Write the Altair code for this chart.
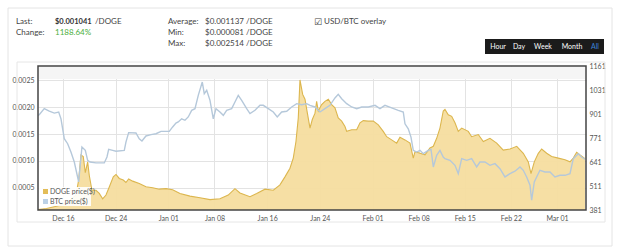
import altair as alt
import pandas as pd

# ---------------- data ----------------
BASE = "2013-12-12"  # day 0 of the day offsets below

# (day offset, BTC price in USD)
btc_points = [
    (0.21, 893), (0.40, 897), (1.16, 930), (1.92, 916), (2.68, 906), (3.35, 912),
    (3.70, 875), (4.20, 767), (4.71, 740), (5.21, 695), (5.72, 641), (6.38, 533),
    (6.88, 722), (7.39, 704), (7.75, 650), (8.10, 641), (9.01, 636), (10.27, 636),
    (10.68, 668), (10.94, 710), (11.55, 704), (12.05, 699), (13.31, 704), (13.56, 749),
    (13.97, 800), (15.08, 798), (15.58, 767), (15.99, 755), (16.60, 782), (17.36, 789),
    (18.12, 794), (18.88, 807), (20.14, 807), (20.65, 831), (21.15, 852), (21.50, 858),
    (22.02, 875), (22.52, 867), (23.02, 885), (23.54, 921), (24.04, 930), (24.54, 1002),
    (25.15, 1074), (25.45, 1011), (25.82, 1029), (26.32, 975), (26.82, 875), (27.23, 930),
    (27.83, 912), (28.34, 894), (28.85, 921), (29.61, 930), (30.11, 966), (30.61, 1002),
    (31.13, 975), (31.89, 930), (32.39, 903), (33.15, 921), (33.91, 948), (34.41, 948),
    (35.17, 930), (35.93, 912), (36.53, 885), (37.20, 912), (37.96, 916), (38.72, 939),
    (39.48, 957), (40.24, 951), (41.00, 957), (41.50, 948), (42.26, 939), (43.02, 912),
    (43.77, 930), (44.53, 948), (45.29, 988), (45.79, 1008), (46.31, 984), (47.07, 957),
    (47.83, 939), (48.59, 930), (49.35, 939), (50.35, 939), (51.37, 948), (52.12, 930),
    (52.88, 948), (53.90, 934), (54.90, 921), (55.66, 912), (55.92, 848), (56.42, 821),
    (56.83, 776), (57.18, 704), (57.70, 695), (58.20, 704), (58.70, 686), (59.46, 704),
    (59.87, 710), (60.22, 614), (60.73, 677), (61.23, 704), (61.73, 668), (61.99, 659),
    (62.75, 650), (63.51, 623), (64.01, 578), (64.53, 659), (65.29, 650), (66.04, 659),
    (66.80, 614), (67.30, 641), (68.06, 641), (68.82, 623), (69.58, 632), (70.34, 605),
    (71.10, 560), (71.86, 578), (72.62, 591), (73.38, 614), (73.88, 596), (74.39, 560),
    (74.90, 515), (75.15, 434), (75.55, 533), (75.91, 560), (76.41, 596), (77.17, 587),
    (77.93, 587), (78.69, 560), (79.45, 569), (80.21, 569), (80.97, 578), (81.47, 659),
    (82.23, 686), (82.74, 668), (83.25, 656),
]

# (day offset, DOGE price in USD)
doge_points = [
    (0.21, 0.000090), (1.50, 0.000110), (3.00, 0.000150), (4.00, 0.000190),
    (4.96, 0.00025), (5.97, 0.00036), (6.38, 0.00064), (6.73, 0.00111), (7.08, 0.00108),
    (7.39, 0.00078), (7.75, 0.00098), (7.99, 0.00073), (8.40, 0.00045), (9.01, 0.00045),
    (9.51, 0.00039), (10.03, 0.00029), (10.53, 0.00036), (11.03, 0.00051), (11.64, 0.00070),
    (12.05, 0.000745), (12.55, 0.00067), (13.15, 0.00064), (13.56, 0.000595), (13.97, 0.00066),
    (14.58, 0.00062), (15.58, 0.000576), (16.60, 0.000514), (17.62, 0.000495), (18.62, 0.00047),
    (19.64, 0.00048), (20.65, 0.00046), (21.76, 0.00039), (23.28, 0.00034), (24.80, 0.00031),
    (26.32, 0.000275), (27.83, 0.00029), (29.09, 0.00036), (30.11, 0.00048), (30.87, 0.00040),
    (32.39, 0.00033), (33.41, 0.00039), (34.67, 0.00047), (35.93, 0.00045), (36.94, 0.00055),
    (37.70, 0.00070), (38.46, 0.00086), (38.96, 0.00105), (39.37, 0.00136), (39.72, 0.00180),
    (39.98, 0.00251), (40.39, 0.00224), (40.74, 0.00215), (41.09, 0.00190), (41.50, 0.00161),
    (41.85, 0.00177), (42.26, 0.00189), (42.51, 0.00211), (42.76, 0.00193), (43.27, 0.00205),
    (43.77, 0.00211), (44.28, 0.00215), (44.79, 0.00205), (45.29, 0.00199), (45.79, 0.00180),
    (46.31, 0.00174), (46.81, 0.00164), (47.07, 0.00155), (47.83, 0.00158), (48.59, 0.00158),
    (49.09, 0.00171), (49.59, 0.00175), (50.35, 0.00174), (51.11, 0.00174), (51.87, 0.00167),
    (52.62, 0.00155), (53.14, 0.00145), (53.90, 0.00139), (54.66, 0.00133), (55.16, 0.00144),
    (55.92, 0.00139), (56.68, 0.00133), (57.18, 0.00105), (57.44, 0.00117), (58.20, 0.00114),
    (58.96, 0.00111), (59.71, 0.00124), (60.22, 0.00127), (60.73, 0.00142), (61.23, 0.00161),
    (61.73, 0.00193), (61.99, 0.00196), (62.49, 0.00186), (63.01, 0.00183), (63.51, 0.00171),
    (64.01, 0.00155), (64.53, 0.00161), (65.53, 0.00155), (66.04, 0.00145), (67.05, 0.00149),
    (67.81, 0.00136), (68.82, 0.00142), (69.84, 0.00133), (70.84, 0.00120), (71.86, 0.00122),
    (72.88, 0.00127), (73.88, 0.00114), (74.64, 0.00098), (75.05, 0.00076), (75.55, 0.00098),
    (76.16, 0.00114), (76.67, 0.00122), (77.43, 0.00114), (78.19, 0.00108), (79.19, 0.00105),
    (80.21, 0.00102), (80.97, 0.00098), (81.47, 0.00105), (81.98, 0.00116), (82.49, 0.00111),
    (83.25, 0.00104),
]

x_tick_dates = ["2013-12-16", "2013-12-24", "2014-01-01", "2014-01-08", "2014-01-16",
                "2014-01-24", "2014-02-01", "2014-02-08", "2014-02-15", "2014-02-22",
                "2014-03-01"]
x_domain_days = [0.21, 83.40]
doge_ticks = [0.0005, 0.0010, 0.0015, 0.0020, 0.0025]
doge_domain = [0.000081, 0.00277]
btc_ticks = [381, 511, 641, 771, 901, 1031, 1161]
btc_domain = [381, 1161]

stats = {
    "last": "$0.001041", "change": "1188.64%", "average": "$0.001137",
    "min": "$0.000081", "max": "$0.002514", "unit": "/DOGE",
}
legend_labels = ["DOGE price($)", "BTC price($)"]
range_buttons = ["Hour", "Day", "Week", "Month", "All"]

# ---------------- build tables ----------------
base_ts = pd.Timestamp(BASE)


def to_time(days):
    return (base_ts + pd.to_timedelta(days, unit="D")).strftime("%Y-%m-%dT%H:%M:%S")


btc_df = pd.DataFrame(btc_points, columns=["day", "price"])
btc_df["time"] = btc_df["day"].map(to_time)
doge_df = pd.DataFrame(doge_points, columns=["day", "price"])
doge_df["time"] = doge_df["day"].map(to_time)


def dt(ts):
    return alt.DateTime(year=ts.year, month=ts.month, date=ts.day,
                        hours=ts.hour, minutes=ts.minute)


x_values = [dt(pd.Timestamp(s)) for s in x_tick_dates]
x_domain = [dt(base_ts + pd.to_timedelta(d, unit="D")) for d in x_domain_days]

FONT = "Lato"
W, H = 548, 144
OX, OY = 38, 66  # plot origin inside the 624x251 page

x_enc = alt.X("time:T", scale=alt.Scale(domain=x_domain),
              axis=alt.Axis(values=x_values, format="%b %d", title=None,
                            labelFontSize=7, labelColor="#555", labelFont=FONT,
                            grid=True, gridColor="#e3e3e3", domain=False,
                            ticks=False, labelPadding=4, labelFlush=False))

doge = alt.Chart(doge_df).mark_area(
    color="#f6dd9f", opacity=0.95,
    line={"color": "#dcb64e", "strokeWidth": 1.1},
).encode(
    x=x_enc,
    y=alt.Y("price:Q", scale=alt.Scale(domain=doge_domain, zero=False, nice=False),
            axis=alt.Axis(values=doge_ticks, format=".4f", title=None, orient="left",
                          labelFontSize=7, labelColor="#555", labelFont=FONT,
                          grid=True, gridColor="#e3e3e3", domain=False, ticks=False,
                          labelPadding=4)),
    y2=alt.datum(doge_domain[0]),
)

btc = alt.Chart(btc_df).mark_line(color="#b5c8da", strokeWidth=1.4).encode(
    x=alt.X("time:T"),
    y=alt.Y("price:Q", scale=alt.Scale(domain=btc_domain, zero=False, nice=False),
            axis=alt.Axis(values=btc_ticks, format="d", title=None, orient="right",
                          labelFontSize=7, labelColor="#555", labelFont=FONT,
                          grid=False, domain=False, ticks=False, labelPadding=3)),
)

one = alt.Data(values=[{}])


def rect(x, y, x2, y2, **kw):
    return alt.Chart(one).mark_rect(**kw).encode(
        x=alt.value(x - OX), y=alt.value(y - OY),
        x2=alt.value(x2 - OX), y2=alt.value(y2 - OY))


def txt(text, x, y, **kw):
    style = dict(align="left", baseline="middle", fontSize=8, font=FONT, color="#444")
    style.update(kw)
    return alt.Chart(one).mark_text(text=text, **style).encode(
        x=alt.value(x - OX), y=alt.value(y - OY))


decor_back = [
    rect(8, 8, 612, 246, fill=None, stroke="#e4e4e4", strokeWidth=1),
    rect(17, 62, 605, 222, fill=None, stroke="#e6e6e6", strokeWidth=1),
    rect(OX + 1, OY + 1, OX + W - 1, OY + 13, fill="#f5f5f5"),
]

decor_front = [
    rect(OX, OY, OX + W, OY + H, fill=None, stroke="#444", strokeWidth=1.5),
    # legend
    rect(39, 187, 91, 206, fill="white", opacity=0.9),
    rect(43, 189, 48, 194, fill="#e3bd58"),
    rect(43, 199, 48, 204, fill="#bcd1e6"),
    txt(legend_labels[0], 50, 191.5, fontSize=7, color="#555"),
    txt(legend_labels[1], 50, 201.5, fontSize=7, color="#555"),
    # header
    txt("Last:", 16, 22),
    txt(stats["last"], 55, 22, fontWeight="bold", color="#333", fontSize=7.5),
    txt(stats["unit"], 95, 22),
    txt("Change:", 16, 33),
    txt(stats["change"], 55, 33, color="#4caf3c"),
    txt("Average:", 168, 22),
    txt("Min:", 168, 33),
    txt("Max:", 168, 44),
    txt(stats["average"] + " " + stats["unit"], 205, 22),
    txt(stats["min"] + " " + stats["unit"], 205, 33),
    txt(stats["max"] + " " + stats["unit"], 205, 44),
    txt("\u2611", 314, 22, font="DejaVu Sans", fontSize=9, color="#444"),
    txt("USD/BTC overlay", 324, 22),
    # range buttons
    rect(485, 39, 604, 54, fill="#1b1b1b"),
]
btn_x = [498, 519, 543, 572, 595]
for label, bx in zip(range_buttons, btn_x):
    decor_front.append(txt(label, bx, 46.5, align="center", fontSize=7,
                           color="#3b82d6" if label == "All" else "white"))

chart = alt.layer(
    *decor_back, doge, btc, *decor_front
).resolve_scale(y="independent").properties(
    width=W, height=H,
    padding={"left": OX, "top": OY, "right": 624 - OX - W, "bottom": 251 - OY - H},
    autosize=alt.AutoSizeParams(type="none"),
    background="white",
).configure_view(stroke=None)

chart.save("out.html", embed_options={"renderer": "svg", "actions": False})
